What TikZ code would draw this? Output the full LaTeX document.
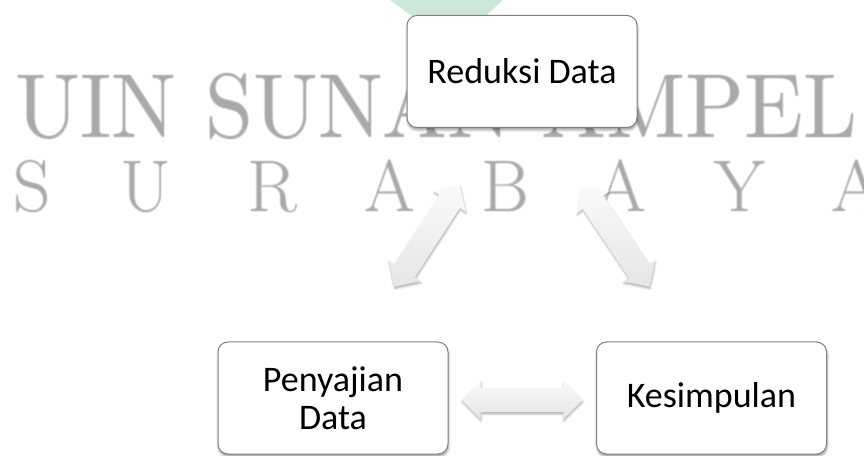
\documentclass[tikz,border=0pt]{standalone}
\usepackage{fontspec}
\newfontfamily\boxfont{Carlito}
\usetikzlibrary{shapes.arrows,shadows.blur}

\definecolor{wmgray}{RGB}{100,100,100}
\definecolor{logogreen}{RGB}{204,232,216}
\definecolor{boxline}{RGB}{128,128,128}

\tikzset{
  stage/.style={draw=boxline, line width=1pt, fill=white, rounded corners=10pt,
    minimum width=230pt, minimum height=112pt, inner sep=0pt, align=center,
    font=\boxfont\fontsize{36}{38}\selectfont,
    blur shadow={shadow xshift=0.5pt, shadow yshift=-2.5pt,
      shadow blur radius=2.5pt, shadow opacity=40}},
  link/.style={double arrow, double arrow head extend=7pt,
    double arrow tip angle=90, inner xsep=0pt, inner ysep=12pt,
    minimum height=121pt, minimum width=1pt, sloped, draw=none,
    top color=gray!4, bottom color=gray!20,
    blur shadow={shadow xshift=0.5pt, shadow yshift=-2pt,
      shadow blur radius=2pt, shadow opacity=30}},
  mark text/.style={inner sep=0pt, text=wmgray, text opacity=0.15}
}

\begin{document}
\begin{tikzpicture}[x=1pt, y=1pt]
  \useasboundingbox (0,0) rectangle (864,455);

  % watermark, drawn a few times with small offsets for a soft edge
  \foreach \dx/\dy [count=\n] in {0/0, 1/0, -1/0, 0/1, 0/-1} {
    \node[mark text, anchor=base west] (wmtop\n) at ({15+\dx},{317+\dy})
      {\resizebox{842pt}{65pt}{UIN SUNAN AMPEL}};
    \foreach \c/\x [count=\k] in {S/32,U/146,R/272,A/390,B/505,A/621,Y/740,A/857} {
      \node[mark text, anchor=base, font=\fontsize{73}{73}\selectfont]
        (wm\n l\k) at ({\x+\dx},{243+\dy}) {\c};
    }
  }

  % lower tip of the logo above the first stage
  \fill[logogreen] (390,455) -- (503,455) -- (476,430) -- (424,430) -- cycle;

  % stages
  \node[stage] (reduksi) at (522,383.5) {Reduksi Data};
  \node[stage] (penyajian) at (333,57) {Penyajian\\Data};
  \node[stage] (kesimpulan) at (711.5,57) {Kesimpulan};

  % arrow ends
  \coordinate (l1) at (394,168); \coordinate (l2) at (460,270);
  \coordinate (r1) at (582,269); \coordinate (r2) at (650,168);
  \coordinate (b1) at (462,55);  \coordinate (b2) at (582,55);

  % two-way links
  \path (l1) -- node[link] (linkleft) {} (l2);
  \path (r1) -- node[link] (linkright) {} (r2);
  \path (b1) -- node[link] (linkbottom) {} (b2);
\end{tikzpicture}
\end{document}
